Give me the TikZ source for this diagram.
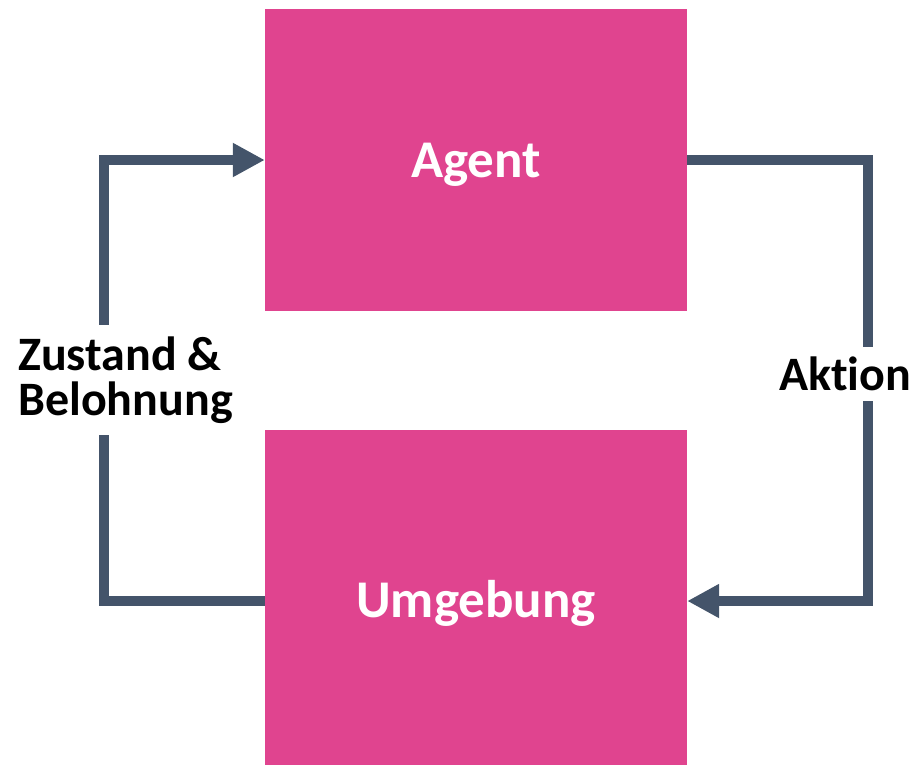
\documentclass[tikz,border=0pt]{standalone}
\usepackage{fontspec}
\setmainfont{Carlito}[Ligatures=NoCommon]
\usetikzlibrary{arrows.meta,calc}
\definecolor{boxpink}{HTML}{E0448F}
\definecolor{flowgray}{HTML}{44546A}
\tikzset{
  block/.style={fill=boxpink, draw=none, minimum width=422pt},
  blocktext/.style={text=white, font=\fontsize{53}{56}\selectfont\bfseries},
  flow/.style={draw=flowgray, line width=10pt, line join=miter,
    -{Triangle[length=32pt,width=32pt]}},
  lbl/.style={fill=white, text=black, font=\fontsize{48}{45}\selectfont\bfseries}
}
\begin{document}
\begin{tikzpicture}[x=1pt,y=-1pt]
  \useasboundingbox (0,0) rectangle (917,764);
  % the two boxes and their titles
  \node[block, minimum height=302pt] (agent) at (476,160) {};
  \node[blocktext] (agenttext) at (476,165) {Agent};
  \node[block, minimum height=342pt] (env) at (476,601) {};
  \node[blocktext] (envtext) at (476,603) {Umgebung};
  \coordinate (lx) at (104,0);
  \coordinate (rx) at (868,0);
  % feedback: state and reward back to the agent
  \draw[flow] (env.west) -| (lx |- env.west) |- (agent.west);
  % action from the agent to the environment
  \draw[flow] (agent.east) -| (rx |- agent.east) |- (env.east);
  \node[lbl, anchor=west, align=left, inner xsep=0pt, inner ysep=12pt] (state) at (18,380) {Zustand \&\\Belohnung};
  \node[lbl, inner xsep=2pt, inner ysep=10pt] (action) at (845,374) {Aktion};
\end{tikzpicture}
\end{document}
